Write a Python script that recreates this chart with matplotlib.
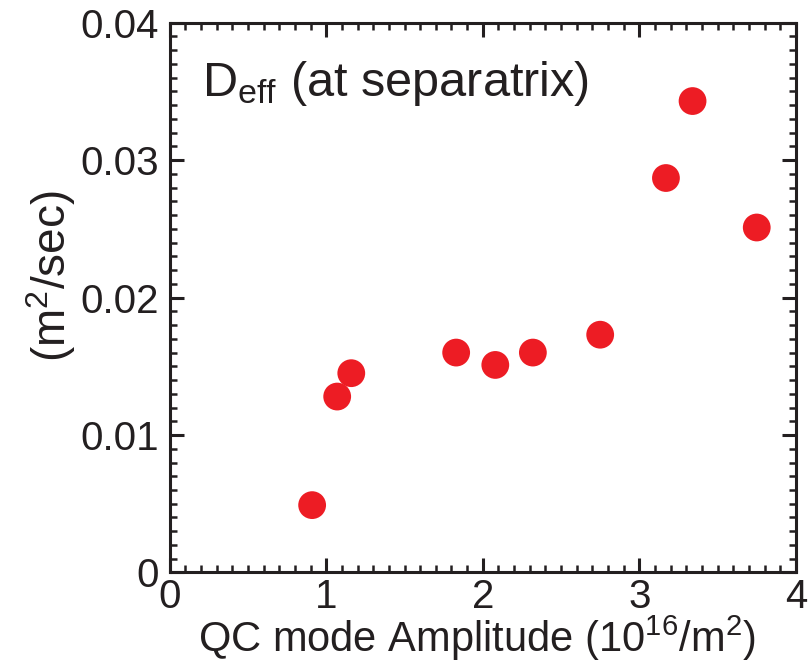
import matplotlib
matplotlib.use('Agg')
import matplotlib.pyplot as plt
from matplotlib.ticker import MultipleLocator, FuncFormatter

# data
amplitude = [0.91, 1.07, 1.16, 1.83, 2.08, 2.32, 2.75, 3.17, 3.34, 3.75]
d_eff = [0.0049, 0.0128, 0.0145, 0.0160, 0.0151, 0.0160, 0.0173, 0.0287, 0.0343, 0.0251]

plt.rcParams['font.family'] = ['Liberation Sans', 'DejaVu Sans']
plt.rcParams['mathtext.fontset'] = 'custom'
plt.rcParams['mathtext.rm'] = 'Liberation Sans'
plt.rcParams['mathtext.it'] = 'Liberation Sans'

fig = plt.figure(figsize=(8.08, 6.68), dpi=100)
ax = fig.add_axes([0.210, 0.143, 0.775, 0.823])

ax.scatter(amplitude, d_eff, s=400, color='#ed1c24', edgecolors='none', zorder=3)

ax.set_xlim(0, 4)
ax.set_ylim(0, 0.04)
ax.xaxis.set_major_locator(MultipleLocator(1))
ax.xaxis.set_minor_locator(MultipleLocator(0.1))
ax.yaxis.set_major_locator(MultipleLocator(0.01))
ax.yaxis.set_minor_locator(MultipleLocator(0.001))
ax.yaxis.set_major_formatter(FuncFormatter(lambda v, p: '0' if abs(v) < 1e-9 else f'{v:.2f}'))

for s in ax.spines.values():
    s.set_linewidth(2.2)
    s.set_color('#231f20')
ax.tick_params(which='both', direction='in', top=True, right=True,
               color='#231f20', labelcolor='#231f20', labelsize=29)
ax.tick_params(which='major', length=10, width=2.2, pad=8)
ax.tick_params(which='minor', length=5, width=1.8)
ax.tick_params(axis='x', which='major', pad=4)

ax.set_xlabel(r'QC mode Amplitude (10$^{16}$/m$^{2}$)', fontsize=30, color='#231f20', labelpad=0)
ax.xaxis.set_label_coords(0.49, -0.075)
ax.set_ylabel(r'(m$^{2}$/sec)', fontsize=33, color='#231f20')
ax.yaxis.set_label_coords(-0.147, 0.538)

ax.text(0.051, 0.867, r'D$_{\rm eff}$ (at separatrix)', transform=ax.transAxes,
        fontsize=35, color='#231f20', va='baseline', ha='left')

fig.savefig('out.png', dpi=100)
